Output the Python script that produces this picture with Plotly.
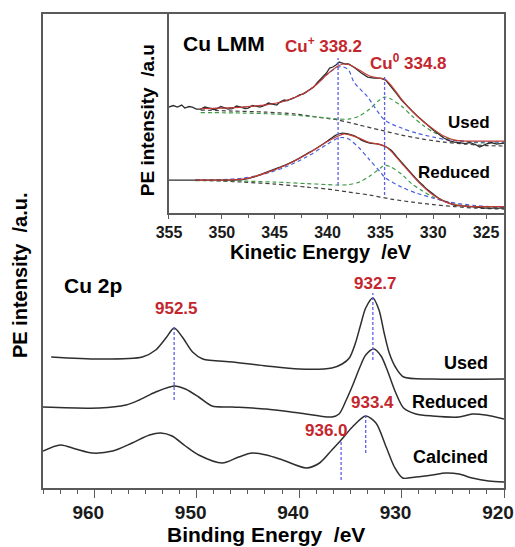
import plotly.graph_objects as go

# ---------------- Cu 2p (main panel) ----------------
be_used = [964.2, 959.5, 955.3, 954.0, 953.0, 952.2, 951.4, 950.4, 949.4, 946.5, 943.2, 940.0, 936.8,
           935.8, 935.1, 934.5, 934.0, 933.5, 932.8, 932.2, 931.7, 931.2, 930.6, 929.8, 927.0, 920.0]
int_used = [131, 129, 131, 138, 150, 160, 151, 136, 129, 126, 122, 119, 120,
            124, 130, 145, 163, 180, 190, 178, 155, 135, 121, 111, 109, 109]

be_red = [965.0, 959.5, 956.9, 955.6, 954.0, 952.2, 951.1, 949.8, 948.5, 946.5, 943.2, 940.0, 936.8,
          936.1, 935.4, 934.8, 934.1, 933.5, 932.7, 932.0, 931.4, 930.6, 929.8, 928.6, 927.0, 924.4,
          923.1, 921.8, 920.0]
int_red = [81, 80, 83, 88, 96, 102, 99, 91, 82, 81, 79, 75, 71,
           74, 88, 102, 120, 133, 139, 132, 118, 96, 80, 74, 72, 71,
           74, 73, 69]

be_cal = [965.0, 963.3, 961.8, 960.2, 958.2, 956.3, 954.6, 953.5, 952.4, 951.1, 949.8, 947.5, 945.9,
          944.6, 943.2, 941.6, 939.3, 938.0, 936.8, 935.9, 934.8, 933.5, 932.5, 931.5, 930.7, 929.9,
          928.6, 927.0, 925.7, 924.4, 923.1, 921.5, 920.0]
int_cal = [37, 43, 39, 35, 37, 45, 53, 55, 52, 42, 33, 25, 31,
           35, 33, 28, 20, 25, 38, 48, 61, 72, 65, 41, 21, 10,
           11, 13, 15, 14, 10, 7, 6]

cu2p_peaks = [952.2, 932.8, 933.5, 935.9]
cu2p_peak_lo = [88, 128, 35, 8]
cu2p_peak_hi = [163, 195, 75, 48]
cu2p_labels = ["952.5", "932.7", "933.4", "936.0"]
cu2p_label_x = [952.0, 932.5, 932.8, 937.3]
cu2p_label_y = [180, 205, 86, 58]

# ---------------- Cu LMM (inset) ----------------
ke_used = [355.0, 354.6, 354.2, 353.8, 353.5, 353.1, 352.8, 352.4, 352.0, 351.6, 351.2, 350.8, 350.5,
           350.1, 349.8, 349.4, 349.0, 348.6, 348.2, 347.8, 347.5, 347.1, 346.8, 346.4, 346.0, 345.6,
           345.2, 344.8, 344.5, 344.1, 343.8, 343.4, 343.0, 342.6, 342.3, 341.9, 341.6, 341.3, 341.0,
           340.7, 340.4, 340.1, 339.8, 339.5, 339.2, 338.9, 338.6, 338.3, 338.0, 337.4, 336.8, 336.2,
           335.6, 335.0, 334.5, 334.0, 333.5, 333.0, 332.5, 332.0, 331.5, 331.0, 330.5, 330.0, 329.5,
           329.0, 328.5, 328.0, 327.5, 327.0, 326.5, 326.0, 325.6, 325.0, 324.5, 324.0, 323.3]
int_lmm_used = [106, 107.5, 106, 108, 105, 106.5, 106, 104, 104, 106, 105, 103.5, 104,
                106.5, 105.5, 104, 104.5, 107, 106, 104.5, 105, 107.5, 107, 106, 107.5, 110,
                109, 108, 111, 113, 112.5, 114, 116, 118.5, 119, 122, 124, 126, 130,
                133, 137, 140, 145, 146, 148, 151, 150, 149, 149, 145, 140, 136,
                135, 135, 133, 127, 120, 113, 107, 102, 97, 92, 87, 83, 79,
                75, 72.5, 71, 70.5, 69.5, 70.5, 68.5, 66, 69, 70.5, 69, 70]

ke_fit_u = [352.0, 350.0, 348.0, 346.0, 344.0, 342.0, 341.0, 340.0, 339.0, 338.5, 338.0, 337.0, 336.0,
            335.2, 334.6, 334.0, 333.0, 332.0, 331.0, 330.0, 329.0, 328.0, 327.0, 326.0, 325.0, 323.3]
fit_used = [104.5, 105, 106, 108, 112, 121, 129, 139, 147, 149, 148.5, 143, 137,
            135, 134, 128, 114, 102, 92, 84, 77, 73, 72, 72, 72, 72]

ke_cup_u = [352.0, 350.0, 348.0, 346.0, 344.0, 342.0, 341.0, 340.0, 339.0, 338.5, 338.0, 337.5, 336.2,
            334.6, 333.0, 331.6, 330.0, 328.5, 326.0, 323.3]
cup_used = [104.5, 105, 106, 108, 112, 121, 129, 139, 146, 146, 143, 131, 116,
            93, 85, 80, 76, 73, 71, 71]

ke_cu0_u = [352.0, 348.0, 345.0, 342.0, 340.0, 339.0, 338.0, 337.0, 336.0, 335.2, 334.6, 334.0, 333.0,
            332.0, 331.0, 330.0, 329.0, 328.0, 326.0, 323.3]
cu0_used = [100.5, 100, 99, 97, 95, 94, 94, 97, 104, 112, 116, 114, 107,
            97, 88, 81, 76, 73, 70.5, 70]

ke_bg_u = [352.0, 349.0, 346.0, 343.0, 341.0, 339.0, 337.0, 335.0, 333.0, 331.0, 329.0, 327.0, 325.0, 323.3]
bg_used = [103, 102, 101, 99, 96, 93, 88, 83, 78, 74, 71, 69, 67.5, 67]

ke_red = [355.0, 352.0, 350.0, 348.0, 347.0, 346.0, 345.0, 344.0, 343.0, 342.0, 341.0, 340.0, 339.2,
          338.6, 338.0, 337.4, 336.8, 336.0, 335.2, 334.6, 334.0, 333.5, 333.0, 332.5, 332.0, 331.5,
          331.0, 330.5, 330.0, 329.5, 329.0, 328.5, 328.0, 327.0, 326.0, 325.0, 324.0, 323.3]
int_lmm_red = [33, 33, 33, 33.5, 36, 40, 44, 48, 53, 59, 65, 72, 78,
               80, 79, 77, 73, 70, 69, 67, 63, 57, 51, 45, 39, 33,
               28, 23, 19, 15, 12, 10, 8, 7, 6, 5, 5, 5]

ke_fit_r = [352.5, 350.0, 348.0, 346.0, 344.0, 342.0, 340.0, 339.0, 338.5, 338.0, 337.0, 336.0, 335.0,
            334.5, 334.0, 333.0, 332.0, 331.0, 330.0, 329.0, 328.0, 327.0, 325.0, 323.3]
fit_red = [33, 33, 34, 39.5, 47.5, 58.5, 71.5, 77, 79, 78.5, 75, 70.5, 68.5,
           66.5, 62, 50, 38, 27, 18, 12, 8.5, 7, 6.5, 6.5]

ke_cup_r = [352.5, 350.0, 348.0, 346.0, 344.0, 342.0, 340.0, 339.0, 338.5, 338.0, 337.0, 336.0, 335.0,
            334.5, 333.0, 331.6, 330.0, 328.5, 326.0, 323.3]
cup_red = [33, 33.5, 35, 39, 46, 56, 69, 75, 75.5, 74, 65, 53, 41,
           35, 26, 20, 15, 11, 7.5, 6]

ke_cu0_r = [352.5, 348.0, 345.0, 342.0, 340.0, 339.0, 338.0, 337.0, 336.0, 335.0, 334.6, 334.0, 333.0,
            332.0, 331.0, 330.0, 329.0, 328.0, 326.0, 323.3]
cu0_red = [32.5, 32, 31, 29.5, 28.5, 28, 28.5, 31, 37, 45, 48, 46, 39,
           29, 22, 16, 12, 9, 6.5, 5.5]

ke_bg_r = [352.5, 350.0, 348.0, 345.0, 342.0, 340.0, 338.0, 336.0, 334.0, 332.0, 330.0, 328.0, 326.0, 323.3]
bg_red = [33, 32, 31, 29, 26, 24, 21, 18, 14, 11, 8.5, 6.5, 5, 4]

lmm_peaks = [339.0, 334.6]
lmm_peak_lo = [28, 18]
lmm_peak_hi = [155, 138]

# ---------------- styling ----------------
FONT = "Liberation Sans, Arial, sans-serif"
RED_TXT = "#c4262e"
CURVE = "#2e2e2e"
FIT = "#c23b32"
BLUE = "#4a5fe0"
GREEN = "#3f9c45"
BGC = "#404040"
DOT = "#5f5fe8"
FRAME = "#5a5a5a"

fig = go.Figure()

def line(x, y, color, width=1.5, dash=None, xa="x", ya="y", shape="spline"):
    fig.add_trace(go.Scatter(x=x, y=y, mode="lines", xaxis=xa, yaxis=ya, hoverinfo="skip",
                             line=dict(color=color, width=width, dash=dash, shape=shape, smoothing=0.8)))

# main curves
line(be_used, int_used, CURVE)
line(be_red, int_red, CURVE)
line(be_cal, int_cal, CURVE)
for p, lo, hi in zip(cu2p_peaks, cu2p_peak_lo, cu2p_peak_hi):
    line([p, p], [lo, hi], DOT, width=1.3, dash="3px,2px", shape="linear")

# inset curves
DASH = "4px,3px"
for ke, yy in [(ke_bg_u, bg_used), (ke_bg_r, bg_red)]:
    line(ke, yy, BGC, 1.2, DASH, "x2", "y2")
for ke, yy in [(ke_cu0_u, cu0_used), (ke_cu0_r, cu0_red)]:
    line(ke, yy, GREEN, 1.2, DASH, "x2", "y2")
for ke, yy in [(ke_cup_u, cup_used), (ke_cup_r, cup_red)]:
    line(ke, yy, BLUE, 1.2, DASH, "x2", "y2")
line(ke_used, int_lmm_used, CURVE, 1.3, None, "x2", "y2", "linear")
line(ke_red, int_lmm_red, CURVE, 1.3, None, "x2", "y2")
for ke, yy in [(ke_fit_u, fit_used), (ke_fit_r, fit_red)]:
    line(ke, yy, FIT, 1.2, None, "x2", "y2")
for p, lo, hi in zip(lmm_peaks, lmm_peak_lo, lmm_peak_hi):
    line([p, p], [lo, hi], DOT, width=1.3, dash="3px,2px", xa="x2", ya="y2", shape="linear")

ann = []
def txt(x, y, s, size, color="black", xref="x", yref="y", xanchor="center", yanchor="middle", angle=0):
    ann.append(dict(x=x, y=y, text=s, xref=xref, yref=yref, xanchor=xanchor, yanchor=yanchor,
                    showarrow=False, textangle=angle,
                    font=dict(family=FONT, size=size, color=color, weight="bold")))

for s, x, y in zip(cu2p_labels, cu2p_label_x, cu2p_label_y):
    txt(x, y, s, 17, RED_TXT)
txt(963.1, 203, "Cu 2p", 21, xanchor="left")
txt(921.4, 125, "Used", 18, xanchor="right")
txt(921.4, 86, "Reduced", 18, xanchor="right")
txt(921.4, 31, "Calcined", 18, xanchor="right")

txt(353.9, 170, "Cu LMM", 21, xref="x2", yref="y2", xanchor="left")
txt(340.4, 168, "Cu<sup>+</sup> 338.2", 17, RED_TXT, "x2", "y2")
txt(332.3, 151, "Cu<sup>0</sup> 334.8", 17, RED_TXT, "x2", "y2")
txt(324.4, 91, "Used", 17, xref="x2", yref="y2", xanchor="right")
txt(324.4, 41, "Reduced", 17, xref="x2", yref="y2", xanchor="right")

# axis titles
txt(0.483, -0.099, "Binding Energy  /eV", 21, xref="paper", yref="paper")
txt(-0.05, 0.449, "PE intensity  /a.u.", 20, xref="paper", yref="paper", angle=-90)
txt(0.6025, 0.498, "Kinetic Energy  /eV", 20, xref="paper", yref="paper")
txt(0.2256, 0.776, "PE intensity  /a.u", 19, xref="paper", yref="paper", angle=-90)

fig.update_layout(
    width=515, height=547,
    margin=dict(l=43, r=11, t=14, b=59, autoexpand=False),
    paper_bgcolor="white", plot_bgcolor="white",
    showlegend=False,
    annotations=ann,
    xaxis=dict(range=[965, 920], domain=[0, 1], showline=True, linecolor=FRAME, linewidth=1.5, mirror=True,
               automargin=False, ticklabelshift=6, ticklabelstandoff=-2, ticklabeloverflow="allow",
               showgrid=False, zeroline=False, ticks="outside", ticklen=8, tickwidth=1.2, tickcolor=FRAME,
               dtick=10, tick0=920,
               tickfont=dict(family=FONT, size=19, color="#1a1a1a", weight="bold"),
               minor=dict(dtick=10/6, tick0=920, ticks="outside", ticklen=4, tickcolor=FRAME, tickwidth=1)),
    yaxis=dict(range=[0, 474], domain=[0, 1], showline=True, linecolor=FRAME, linewidth=1.5, mirror=True,
               automargin=False,
               showgrid=False, zeroline=False, showticklabels=False, ticks=""),
    xaxis2=dict(range=[355, 323.3], domain=[0.2733, 1], anchor="y2", showline=True, linecolor=FRAME,
                automargin=False,
                linewidth=1.5, mirror=True, showgrid=False, zeroline=False, ticks="outside", ticklen=4,
                tickwidth=1.2, tickcolor=FRAME, dtick=5, tick0=325,
                tickfont=dict(family=FONT, size=16, color="#1a1a1a", weight="bold"),
                minor=dict(dtick=2.5, tick0=325, ticks="outside", ticklen=3, tickcolor=FRAME, tickwidth=1)),
    yaxis2=dict(range=[0, 199], domain=[0.58, 1], anchor="x2", showline=True, linecolor=FRAME, linewidth=1.5,
                automargin=False,
                mirror=True, showgrid=False, zeroline=False, showticklabels=False, ticks=""),
)

fig.write_html("out.html", config={"displayModeBar": False},
               post_script="document.body.style.margin='0';document.body.style.padding='0';")
